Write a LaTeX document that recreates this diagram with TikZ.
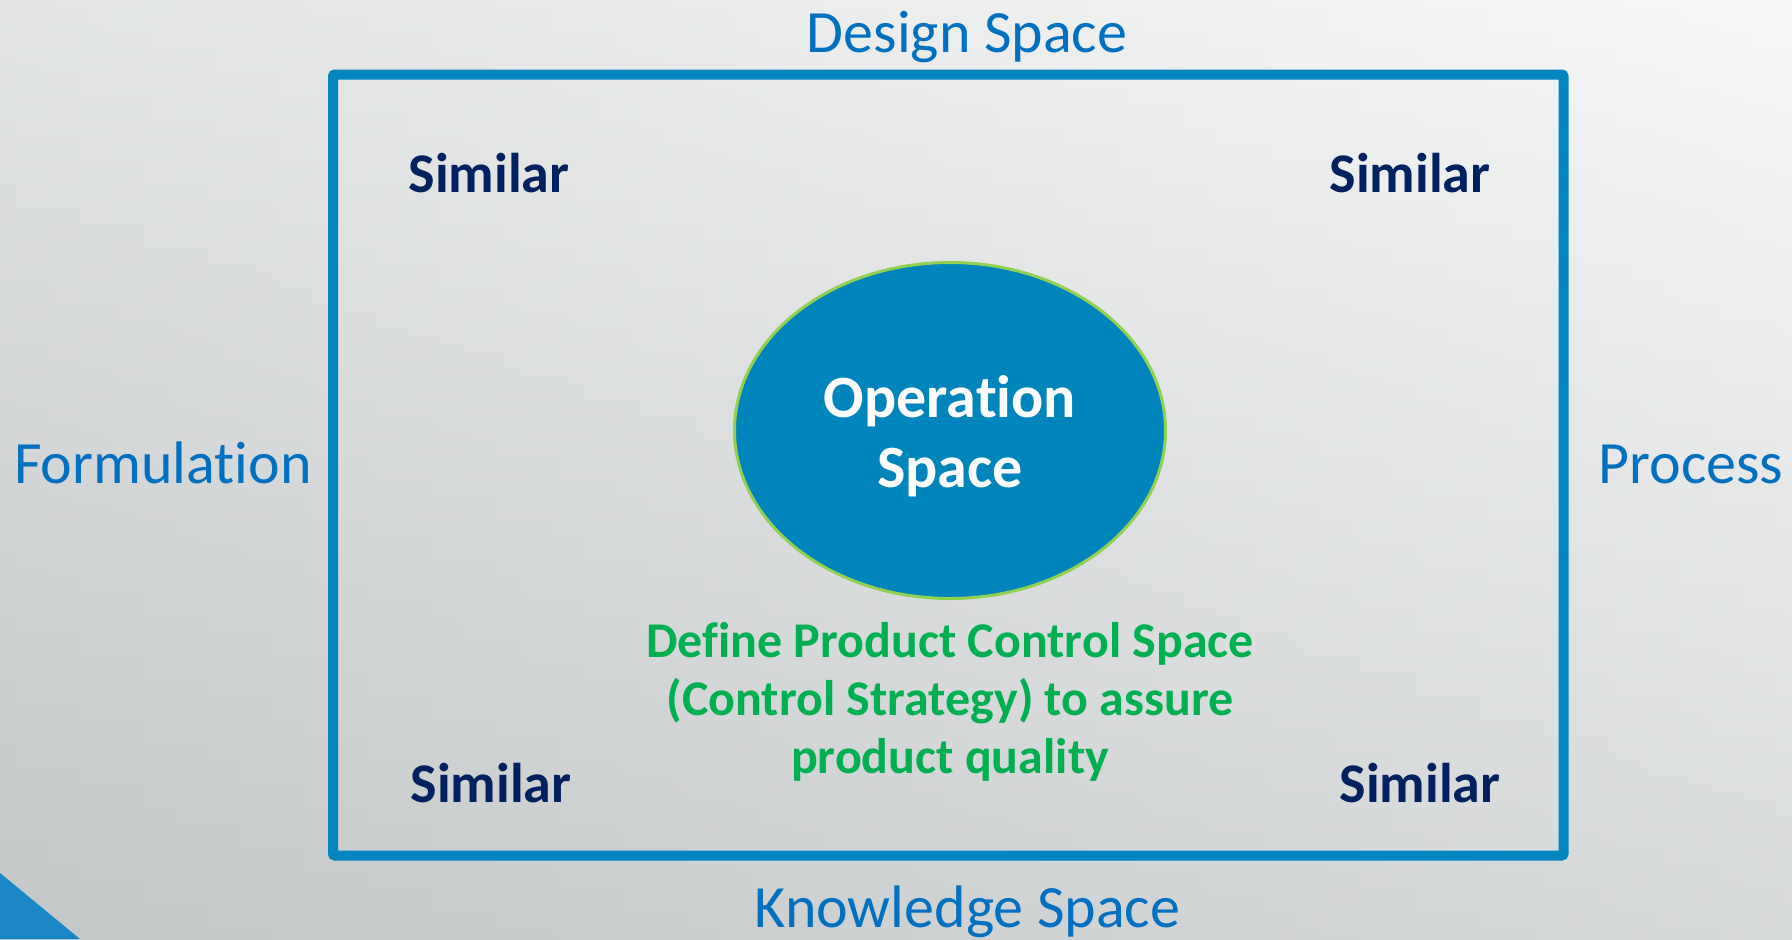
\documentclass[tikz,border=0pt]{standalone}
\usepackage{fontspec}
\setmainfont{Carlito}[Ligatures=NoCommon]
\usepackage{tikz}
\usetikzlibrary{shapes.geometric}

\definecolor{bgtop}{HTML}{F3F4F4}
\definecolor{bgbottom}{HTML}{C3C7C8}
\definecolor{frameblue}{HTML}{0085BF}
\definecolor{cornerblue}{HTML}{1A87C6}
\definecolor{opblue}{HTML}{0084BC}
\definecolor{opgreen}{HTML}{92D050}
\definecolor{labelblue}{HTML}{0070C0}
\definecolor{navy}{HTML}{002060}
\definecolor{notegreen}{HTML}{00B050}

\begin{document}
\begin{tikzpicture}[x=0.5pt,y=-0.5pt,
    spacelabel/.style={text=labelblue,font=\fontsize{30}{36}\selectfont,anchor=base,inner sep=0pt},
    similar/.style={text=navy,font=\fontsize{28}{34}\selectfont\bfseries,anchor=base,inner sep=0pt},
    opspace/.style={ellipse,draw=opgreen,line width=1.5pt,fill=opblue,inner sep=0pt,
        minimum width=215.5pt,minimum height=168pt}]
    \useasboundingbox (0,0) rectangle (1792,939);

    % Background
    \shade[top color=bgtop,bottom color=bgbottom] (0,0) rectangle (1792,939);
    \shade[left color=bgbottom,right color=white,fill opacity=0.35] (0,0) rectangle (1792,939);
    \fill[cornerblue] (0,873) -- (80,939) -- (0,939) -- cycle;

    % Design space frame
    \draw[frameblue,line width=5pt,rounded corners=1pt] (333,74.5) rectangle (1563.5,855.5);

    % Labels round the frame
    \node[spacelabel] (design) at (967,52) {Design Space};
    \node[spacelabel] (knowledge) at (967.5,927) {Knowledge Space};
    \node[spacelabel] (formulation) at (163,483) {Formulation};
    \node[spacelabel] (process) at (1691,483) {Process};

    % Corners
    \node[similar] (simTL) at (489,192) {Similar};
    \node[similar] (simTR) at (1410,192) {Similar};
    \node[similar] (simBL) at (491,802) {Similar};
    \node[similar] (simBR) at (1420,802) {Similar};

    % Operation space
    \node[opspace] (op) at (950,430.5) {};
    \node[text=white,align=center,inner sep=0pt,
        font=\fontsize{30}{35}\selectfont\bfseries] (optext) at (950,436) {Operation\\Space};

    % Control strategy note
    \node[text=notegreen,align=center,inner sep=0pt,
        font=\fontsize{25}{29}\selectfont\bfseries] (control) at (950,702)
        {Define Product Control Space\\(Control Strategy) to assure\\product quality};
\end{tikzpicture}
\end{document}
